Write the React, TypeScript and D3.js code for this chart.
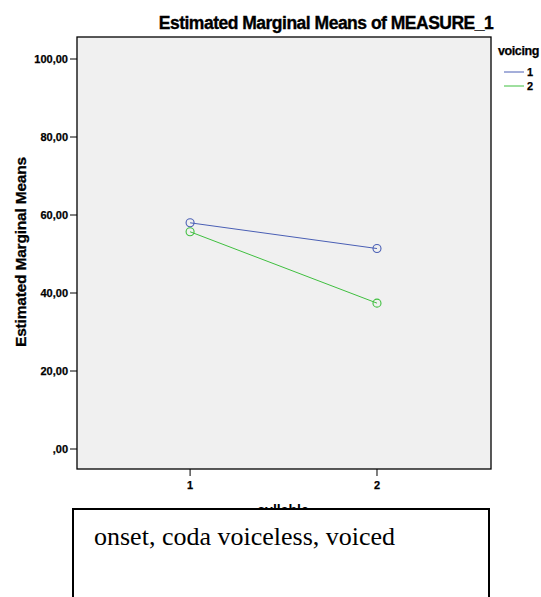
import React from "react";
import * as d3 from "d3";

const xCategories = [1, 2];
const series = ["1", "2"];
const voicing1 = [58.0, 51.4];
const voicing2 = [55.7, 37.4];
const yTicks = [0, 20, 40, 60, 80, 100];
const colors = ["#4a5fb5", "#3fbf3f"];

const W = 541, H = 597;
const PL = 77, PR = 491, PT = 37, PB = 469;

export default function App() {
  const x = d3.scaleLinear().domain([0.395, 2.61]).range([PL, PR]);
  const y = d3.scaleLinear().domain([0, 100]).range([449, 59]);
  const line = d3.line<number>().x((_, i) => x(xCategories[i])).y((d) => y(d));
  const fmt = (v: number) => (v === 0 ? ",00" : v.toFixed(2).replace(".", ","));
  const data = [voicing1, voicing2];
  const bold = "Liberation Sans, Arial, sans-serif";
  return (
    <svg width={W} height={H} style={{ position: "absolute", left: 0, top: 0, background: "#fff" }}>
      <rect x={0} y={0} width={W} height={H} fill="#fff" />
      <text x={326} y={29} textAnchor="middle" fontFamily={bold} fontWeight="bold" fontSize={17.5} letterSpacing={-0.5}
        stroke="#000" strokeWidth={0.35}>
        Estimated Marginal Means of MEASURE_1
      </text>
      <rect x={PL} y={PT} width={PR - PL} height={PB - PT} fill="#f0f0f0" stroke="#000" strokeWidth={1.3} />
      {yTicks.map((t) => (
        <g key={t}>
          <line x1={PL - 7} x2={PL} y1={y(t)} y2={y(t)} stroke="#000" strokeWidth={1} />
          <text x={PL - 9} y={y(t) + 4} textAnchor="end" fontFamily={bold} fontWeight="bold" fontSize={11}
            stroke="#000" strokeWidth={0.25}>
            {fmt(t)}
          </text>
        </g>
      ))}
      {xCategories.map((c) => (
        <g key={c}>
          <line x1={x(c)} x2={x(c)} y1={PB} y2={PB + 7} stroke="#000" strokeWidth={1} />
          <text x={x(c)} y={PB + 20} textAnchor="middle" fontFamily={bold} fontWeight="bold" fontSize={11}
            stroke="#000" strokeWidth={0.25}>
            {c}
          </text>
        </g>
      ))}
      <text
        transform={`translate(26, 252) rotate(-90)`}
        textAnchor="middle"
        fontFamily={bold}
        fontWeight="bold"
        fontSize={15.5}
        letterSpacing={-0.2}
        stroke="#000"
        strokeWidth={0.3}
      >
        Estimated Marginal Means
      </text>
      <text x={283} y={515} textAnchor="middle" fontFamily={bold} fontWeight="bold" fontSize={14}>
        syllable
      </text>
      {data.map((vals, si) => (
        <g key={si}>
          <path d={line(vals) || ""} fill="none" stroke={colors[si]} strokeWidth={1} />
          {vals.map((v, i) => (
            <circle key={i} cx={x(xCategories[i])} cy={y(v)} r={4} fill="none" stroke={colors[si]} strokeWidth={1.1} />
          ))}
        </g>
      ))}
      <text x={498} y={55} fontFamily={bold} fontWeight="bold" fontSize={12.5} letterSpacing={-0.4}
        stroke="#000" strokeWidth={0.25}>
        voicing
      </text>
      {series.map((s, i) => (
        <g key={s}>
          <line x1={504} x2={524} y1={72 + i * 14} y2={72 + i * 14} stroke={colors[i]} strokeWidth={1} />
          <text x={527} y={76 + i * 14} fontFamily={bold} fontWeight="bold" fontSize={11}
            stroke="#000" strokeWidth={0.25}>
            {s}
          </text>
        </g>
      ))}
      <rect x={73} y={509} width={416} height={120} fill="#fff" stroke="#000" strokeWidth={2} />
      <text x={94} y={545} fontFamily="Liberation Serif, Times New Roman, serif" fontSize={26}>
        onset, coda voiceless, voiced
      </text>
    </svg>
  );
}
